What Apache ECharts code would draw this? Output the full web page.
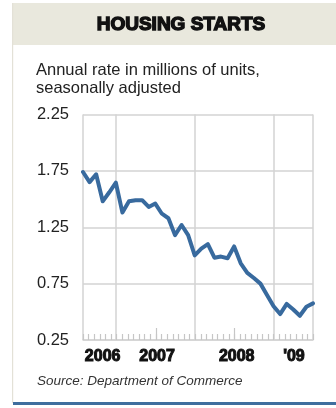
<!DOCTYPE html>
<html>
<head>
<meta charset="utf-8">
<script src="https://cdn.jsdelivr.net/npm/echarts@6/dist/echarts.min.js"></script>
<style>
  html, body { margin: 0; padding: 0; background: #fff; }
  #chart { width: 336px; height: 408px; }
</style>
</head>
<body>
<div id="chart"></div>
<script>
// Monthly housing starts, July 2006 – June 2009 (annual rate, millions of units)
const months = [
  '2006-07','2006-08','2006-09','2006-10','2006-11','2006-12',
  '2007-01','2007-02','2007-03','2007-04','2007-05','2007-06',
  '2007-07','2007-08','2007-09','2007-10','2007-11','2007-12',
  '2008-01','2008-02','2008-03','2008-04','2008-05','2008-06',
  '2008-07','2008-08','2008-09','2008-10','2008-11','2008-12',
  '2009-01','2009-02','2009-03','2009-04','2009-05','2009-06'
];
const starts = [
  1.74, 1.65, 1.72, 1.48, 1.56, 1.645,
  1.38, 1.48, 1.49, 1.49, 1.43, 1.46,
  1.37, 1.33, 1.18, 1.27, 1.18, 1.00,
  1.06, 1.10, 0.98, 0.99, 0.975, 1.08,
  0.93, 0.845, 0.80, 0.75, 0.65, 0.55,
  0.48, 0.57, 0.52, 0.465, 0.545, 0.575
];
const yTicks = [0.25, 0.75, 1.25, 1.75, 2.25];

// Baseline ruler: evenly spaced minor ticks with taller mid-year marks
const rulerSlots = Array.from({ length: 42 }, (_, i) => i);
const rulerMajor = [13, 27];

// Year labels, placed along the ruler scale
const yearLabels = ['2006', '2007', '2008', "'09"];
const yearLabelAt = [3.5, 13.2, 27.4, 37.6];

const GRID_COLOR = '#d3d3d3';
const LINE_COLOR = '#386a9e';
const SANS = '"Liberation Sans", Arial, Helvetica, sans-serif';

const chart = echarts.init(document.getElementById('chart'), null, { renderer: 'canvas' });

const option = {
  animation: false,
  backgroundColor: '#ffffff',
  grid: { left: 83, right: 23, top: 114.5, bottom: 68 },
  graphic: [
    { type: 'rect', z: -10, shape: { x: 13, y: 3, width: 330, height: 42 }, style: { fill: '#e9e8dd' } },
    { type: 'rect', z: -10, shape: { x: 12, y: 3, width: 1.2, height: 400 }, style: { fill: '#e3e1d7' } },
    { type: 'rect', z: -10, shape: { x: 13, y: 402, width: 330, height: 3 }, style: { fill: '#3f6e9e' } },
    {
      type: 'text', x: 181, y: 25,
      style: {
        text: 'HOUSING STARTS', font: 'bold 19px ' + SANS, fill: '#111',
        stroke: '#111', lineWidth: 1.4,
        textAlign: 'center', align: 'center', textVerticalAlign: 'middle', verticalAlign: 'middle'
      }
    },
    {
      type: 'text', x: 36, y: 70,
      style: {
        text: 'Annual rate in millions of units,', font: '16.5px ' + SANS, fill: '#222',
        textAlign: 'left', align: 'left', textVerticalAlign: 'middle', verticalAlign: 'middle'
      }
    },
    {
      type: 'text', x: 36, y: 88,
      style: {
        text: 'seasonally adjusted', font: '16.5px ' + SANS, fill: '#222',
        textAlign: 'left', align: 'left', textVerticalAlign: 'middle', verticalAlign: 'middle'
      }
    },
    {
      type: 'text', x: 37, y: 381.5,
      style: {
        text: 'Source: Department of Commerce', font: 'italic 13.5px ' + SANS, fill: '#333',
        textAlign: 'left', align: 'left', textVerticalAlign: 'middle', verticalAlign: 'middle'
      }
    }
  ],
  xAxis: [
    {
      // month scale for the series; vertical rules at each year end and at both edges
      type: 'category', data: months, boundaryGap: false, position: 'bottom',
      axisLine: { show: false }, axisTick: { show: false }, axisLabel: { show: false },
      splitLine: {
        show: true,
        interval: (i) => i === 0 || i === months.length - 1 || months[i].endsWith('-12'),
        lineStyle: { color: GRID_COLOR, width: 1.5 }
      }
    },
    {
      // minor ruler ticks
      type: 'category', data: rulerSlots, boundaryGap: false, position: 'bottom',
      axisLine: { show: true, lineStyle: { color: GRID_COLOR, width: 1.5 } },
      axisTick: { show: true, inside: true, length: 6, interval: 0, lineStyle: { color: '#c6c6c6', width: 1.2 } },
      axisLabel: { show: false }, splitLine: { show: false }
    },
    {
      // mid-year ruler ticks
      type: 'category', data: rulerSlots, boundaryGap: false, position: 'bottom',
      axisLine: { show: false },
      axisTick: { show: true, inside: true, length: 12, interval: (i) => rulerMajor.includes(i), lineStyle: { color: '#c6c6c6', width: 1.2 } },
      axisLabel: { show: false }, splitLine: { show: false }
    },
    {
      // year labels
      type: 'value', min: 0, max: rulerSlots.length - 1, position: 'bottom',
      axisLine: { show: false }, axisTick: { show: false }, splitLine: { show: false },
      axisLabel: {
        customValues: yearLabelAt,
        formatter: (v) => yearLabels[yearLabelAt.indexOf(v)],
        margin: 9,
        fontFamily: SANS, fontWeight: 'bold', fontSize: 16, color: '#111',
        textBorderColor: '#111', textBorderWidth: 1
      }
    }
  ],
  yAxis: {
    type: 'value', min: yTicks[0], max: yTicks[yTicks.length - 1],
    axisLine: { show: false },
    axisTick: { show: false, customValues: yTicks },
    axisLabel: {
      customValues: yTicks,
      formatter: (v) => v.toFixed(2),
      margin: 14, fontFamily: SANS, fontSize: 16.5, color: '#222'
    },
    splitLine: { show: true, lineStyle: { color: GRID_COLOR, width: 1.5 } }
  },
  series: [
    {
      type: 'line', xAxisIndex: 0, yAxisIndex: 0,
      data: starts, symbol: 'none', smooth: false,
      lineStyle: { color: LINE_COLOR, width: 4, join: 'round', cap: 'round' },
      z: 5
    }
  ]
};

chart.setOption(option);
</script>
</body>
</html>
